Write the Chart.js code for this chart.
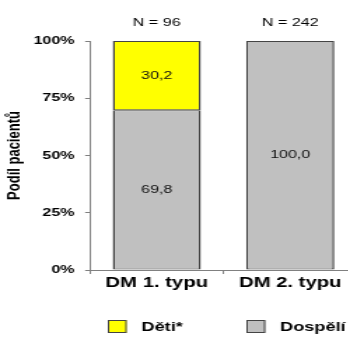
<!DOCTYPE html>
<html>
<head>
<meta charset="utf-8">
<script src="https://cdn.jsdelivr.net/npm/chart.js@4/dist/chart.umd.min.js"></script>
<style>
  html, body { margin: 0; padding: 0; background: #fff; overflow: hidden; }
  #frame { width: 348px; height: 337px; overflow: hidden; position: relative; }
  /* the figure is laid out narrow and widened horizontally */
  #stretch { width: 256px; height: 337px; transform: scaleX(1.4); transform-origin: 0 0; }
  canvas { display: block; }
</style>
</head>
<body>
<div id="frame"><div id="stretch"><canvas id="chart" width="256" height="337"></canvas></div></div>
<script>
// Share of patients by diabetes type, split into children and adults (%)
const categories = ['DM 1. typu', 'DM 2. typu'];
const groupSizes = ['N = 96', 'N = 242'];
const adults = [69.8, 100.0];      // Dospělí
const children = [30.2, null];     // Děti*
const yTicks = [0, 25, 50, 75, 100];

const FONT = '"Liberation Sans", Arial, sans-serif';
const EDGE = '#444444';
const AXIS = '#808080';

// Writes each segment's value (decimal comma) in the middle of its bar
const segmentValues = {
  id: 'segmentValues',
  afterDatasetsDraw(chart) {
    const ctx = chart.ctx;
    ctx.save();
    ctx.font = '11.5px ' + FONT;
    ctx.fillStyle = '#111';
    ctx.textAlign = 'center';
    ctx.textBaseline = 'middle';
    chart.data.datasets.forEach((ds, di) => {
      chart.getDatasetMeta(di).data.forEach((bar, i) => {
        const v = ds.data[i];
        if (v == null || v === 0) return;
        ctx.fillText(v.toFixed(1).replace('.', ','), bar.x, (bar.y + bar.base) / 2);
      });
    });
    ctx.restore();
  }
};

// Legend row under the axis: upper segment first
const boxLegend = {
  id: 'boxLegend',
  afterDraw(chart, args, opts) {
    const ctx = chart.ctx;
    const sets = chart.data.datasets.slice().reverse();
    ctx.save();
    ctx.font = 'bold 13px ' + FONT;
    ctx.textBaseline = 'middle';
    ctx.textAlign = 'left';
    sets.forEach((ds, k) => {
      const x = opts.x[k];
      ctx.fillStyle = ds.backgroundColor;
      ctx.fillRect(x, opts.y, opts.w, opts.h);
      ctx.lineWidth = 1;
      ctx.strokeStyle = EDGE;
      ctx.strokeRect(x + 0.5, opts.y + 0.5, opts.w - 1, opts.h - 1);
      ctx.fillStyle = '#000';
      ctx.fillText(ds.label, x + opts.w + opts.gap, opts.y + opts.h / 2 + 0.5);
    });
    ctx.restore();
  }
};

new Chart(document.getElementById('chart'), {
  type: 'bar',
  data: {
    labels: categories,
    datasets: [
      {
        label: 'Dospělí',
        data: adults,
        backgroundColor: '#c0c0c0',
        borderColor: EDGE,
        borderWidth: { top: 1, bottom: 1, left: 1.5, right: 1.5 },
        borderSkipped: false,
        barPercentage: 0.66,
        categoryPercentage: 1
      },
      {
        label: 'Děti*',
        data: children,
        backgroundColor: '#ffff00',
        borderColor: EDGE,
        borderWidth: { top: 1, bottom: 1, left: 1.5, right: 1.5 },
        borderSkipped: false,
        barPercentage: 0.66,
        categoryPercentage: 1
      }
    ]
  },
  options: {
    responsive: false,
    devicePixelRatio: 1,
    animation: false,
    layout: { padding: { left: 3, right: 1, top: 0, bottom: 40 } },
    plugins: {
      legend: { display: false },
      tooltip: { enabled: false },
      boxLegend: { x: [77, 176], y: 320, w: 13.5, h: 13, gap: 10.5 }
    },
    scales: {
      x: {
        stacked: true,
        offset: true,
        afterFit(scale) { scale.height = 27; },
        border: { color: AXIS, width: 1 },
        grid: { display: true, drawOnChartArea: false, offset: true, tickLength: 4, color: AXIS },
        ticks: { color: '#000', padding: 0.5, font: { family: FONT, size: 14.5, weight: 'bold' } }
      },
      x2: {
        type: 'category',
        position: 'top',
        labels: groupSizes,
        offset: true,
        afterFit(scale) { scale.height = 41; },
        border: { display: false },
        grid: { display: false, drawTicks: false },
        ticks: { color: '#000', padding: 11, font: { family: FONT, size: 11.5 } }
      },
      y: {
        stacked: true,
        min: 0,
        max: 100,
        afterBuildTicks(scale) { scale.ticks = yTicks.map(v => ({ value: v })); },
        afterFit(scale) { scale.width = 61.3; },
        border: { color: AXIS, width: 1 },
        grid: { display: true, drawOnChartArea: false, tickLength: 3.5, color: AXIS },
        ticks: {
          color: '#000',
          padding: 7.5,
          font: { family: FONT, size: 11.5, weight: 'bold' },
          callback: v => v + '%'
        },
        title: {
          display: true,
          text: 'Podíl pacientů',
          color: '#000',
          padding: { top: 0, bottom: 4 },
          font: { family: FONT, size: 13, weight: 'bold' }
        }
      }
    }
  },
  plugins: [segmentValues, boxLegend]
});
</script>
</body>
</html>
